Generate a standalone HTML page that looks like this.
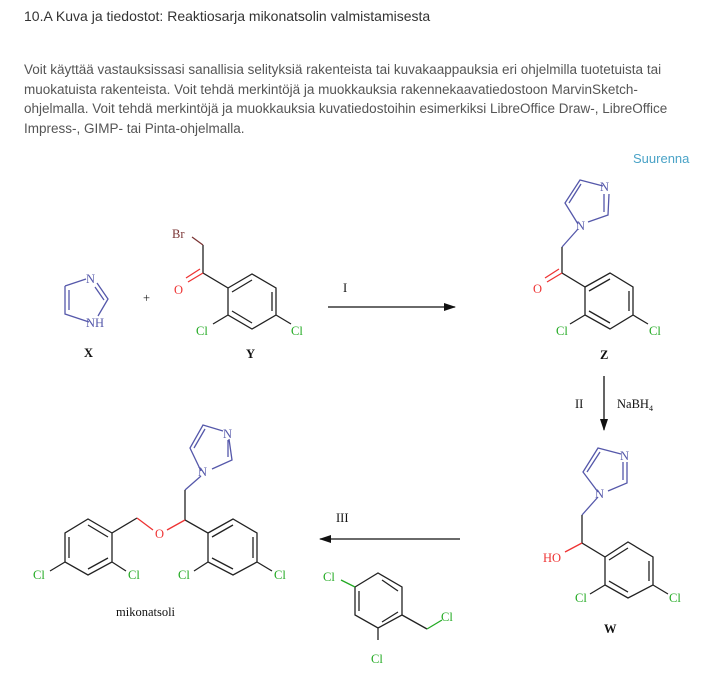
<!DOCTYPE html>
<html><head><meta charset="utf-8"><style>
body{margin:0;background:#fff;width:718px;height:683px;overflow:hidden;font-family:"Liberation Sans",sans-serif}
.t{position:absolute;left:24px;top:8px;font-size:14px;color:#333}
.p{position:absolute;left:24px;top:60px;width:700px;font-size:13.5px;line-height:19.5px;color:#555;white-space:nowrap}
.s{position:absolute;left:633px;top:151px;font-size:13px;color:#4aa3c7}
svg{position:absolute;left:0;top:0}
svg text{font-family:"Liberation Serif",serif;font-size:12.5px}
</style></head><body>
<div class="t">10.A Kuva ja tiedostot: Reaktiosarja mikonatsolin valmistamisesta</div>
<div class="p">Voit käyttää vastauksissasi sanallisia selityksiä rakenteista tai kuvakaappauksia eri ohjelmilla tuotetuista tai<br>muokatuista rakenteista. Voit tehdä merkintöjä ja muokkauksia rakennekaavatiedostoon MarvinSketch-<br>ohjelmalla. Voit tehdä merkintöjä ja muokkauksia kuvatiedostoihin esimerkiksi LibreOffice Draw-, LibreOffice<br>Impress-, GIMP- tai Pinta-ohjelmalla.</div>
<div class="s">Suurenna</div>
<svg width="718" height="683" stroke-width="1.3" fill="none">
<defs><marker id="a" markerUnits="userSpaceOnUse" markerWidth="12" markerHeight="9" refX="11" refY="4.5" orient="auto"><path d="M0,0.5L12,4.5L0,8.5z" fill="#111" stroke="none"/></marker></defs>
<g stroke="#5558aa"><path d="M65,286L86,279M97,283L108,299L98,316M89,322L65,314L65,286M69,290L69,310M95,287L104,300"/></g>
<text x="86" y="283" fill="#5558aa">N</text><text x="86" y="327" fill="#5558aa">NH</text>
<text x="84" y="357" fill="#111" font-weight="bold">X</text>
<text x="143" y="302" fill="#111" font-size="11">+</text>
<g stroke="#222"><path d="M203,245L203,273L228,288L228,315L252,329L276,315L276,288L252,274L228,288M232,311L252,323M272,292L272,311M252,280L232,292M228,315L213,324M276,315L291,324"/></g>
<path d="M192,237L203,245" stroke="#7a3333"/><path d="M203,273L188,282M200,269L186,278" stroke="#e33"/>
<text x="172" y="238" fill="#7a3333">Br</text><text x="174" y="294" fill="#e33">O</text>
<text x="196" y="335" fill="#2a2">Cl</text><text x="291" y="335" fill="#2a2">Cl</text>
<text x="246" y="358" fill="#111" font-weight="bold">Y</text>
<path d="M328,307L455,307" stroke="#111" marker-end="url(#a)"/>
<text x="343" y="292" fill="#111">I</text>
<g stroke="#5558aa"><path d="M578,224L565,203L580,180L603,186M609,194L608,215L588,222M569,203L581,184M604,194L604,212M578,229L562,247"/></g>
<g stroke="#222"><path d="M562,247L562,273L585,287L585,315L610,329L633,315L633,287L610,273L585,287M589,311L610,323M629,291L629,311M610,279L589,291M585,315L570,324M633,315L648,324"/></g>
<path d="M562,273L547,282M559,269L545,278" stroke="#e33"/>
<text x="600" y="191" fill="#5558aa">N</text><text x="576" y="230" fill="#5558aa">N</text>
<text x="533" y="293" fill="#e33">O</text>
<text x="556" y="335" fill="#2a2">Cl</text><text x="649" y="335" fill="#2a2">Cl</text>
<text x="600" y="359" fill="#111" font-weight="bold">Z</text>
<path d="M604,376L604,430" stroke="#111" marker-end="url(#a)"/>
<text x="575" y="408" fill="#111">II</text><text x="617" y="408" fill="#111">NaBH<tspan font-size="8" dy="3">4</tspan></text>
<g stroke="#5558aa"><path d="M598,492L583,472L598,448L621,454M627,462L627,483L608,491M587,472L600,452M623,462L623,480M598,497L582,515"/></g>
<g stroke="#222"><path d="M582,515L582,543L605,557L605,585L628,598L653,585L653,557L628,542L605,557M609,581L628,592M649,561L649,581M628,548L609,560M605,585L590,594M653,585L668,594"/></g>
<path d="M582,543L565,552" stroke="#e33"/>
<text x="620" y="460" fill="#5558aa">N</text><text x="595" y="498" fill="#5558aa">N</text>
<text x="543" y="562" fill="#e33">HO</text>
<text x="575" y="602" fill="#2a2">Cl</text><text x="669" y="602" fill="#2a2">Cl</text>
<text x="604" y="633" fill="#111" font-weight="bold">W</text>
<path d="M460,539L320,539" stroke="#111" marker-end="url(#a)"/>
<text x="336" y="522" fill="#111">III</text>
<g stroke="#222"><path d="M355,587L355,615L378,628L402,615L402,587L378,573L355,587M359,591L359,611M382,622L398,612M398,591L382,580M402,615L427,629M378,628L378,640"/></g>
<path d="M341,580L355,587M427,629L442,620" stroke="#2a2"/>
<text x="323" y="581" fill="#2a2">Cl</text><text x="441" y="621" fill="#2a2">Cl</text><text x="371" y="663" fill="#2a2">Cl</text>
<g stroke="#5558aa"><path d="M201,471L190,448L203,425L223,431M229,439L232,460L212,469M194,448L205,429M228,440L228,457M201,476L185,490"/></g>
<g stroke="#222"><path d="M185,490L185,520L208,533L208,562L233,575L257,562L257,533L233,519L208,533M212,558L233,569M253,537L253,558M233,525L212,537M208,562L194,571M257,562L272,571M137,518L112,533L112,562L88,575L65,562L65,533L88,519L112,533M108,558L88,569M69,537L69,558M88,525L108,537M112,562L126,571M65,562L50,571"/></g>
<path d="M185,520L167,530M153,530L137,518" stroke="#e33"/>
<text x="223" y="438" fill="#5558aa">N</text><text x="198" y="476" fill="#5558aa">N</text>
<text x="155" y="538" fill="#e33">O</text>
<text x="33" y="579" fill="#2a2">Cl</text><text x="128" y="579" fill="#2a2">Cl</text>
<text x="178" y="579" fill="#2a2">Cl</text><text x="274" y="579" fill="#2a2">Cl</text>
<text x="116" y="616" fill="#111">mikonatsoli</text>
</svg>
</body></html>
